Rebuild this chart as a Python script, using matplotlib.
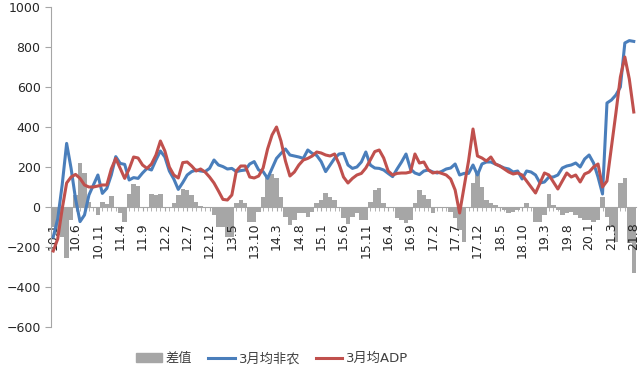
import matplotlib.pyplot as plt
from matplotlib.patches import Patch
from matplotlib.lines import Line2D

plt.rcParams['font.family'] = ['DejaVu Sans', 'Noto Sans CJK SC']

# category labels (year.month), 2020 mostly skipped in the source chart
months = ([f"{y}.{m}" for y in range(10, 20) for m in range(1, 13)]
          + ["20.1", "20.2", "20.12", "21.1", "21.2"]
          + [f"21.{m}" for m in range(3, 9)])

# 差值 (bars)
diff = [-100, -140, -150, -255, -65, 60, 220, 170, 25, 0,
        -40, 25, 15, 55, 0, -30, -75, 63, 113, 105,
        0, 0, 63, 60, 63, 0, 0, 18, 60, 88,
        85, 60, 27, 5, 0, -5, -40, -98, -98, -148,
        -148, 18, 35, 18, -73, -73, -23, 52, 160, 165,
        143, 52, -48, -90, -65, -32, -32, -48, -23, 18,
        35, 72, 52, 35, 0, -57, -85, -48, -32, -65,
        -65, 27, 85, 93, 18, 0, 0, -57, -65, -82,
        -65, 20, 85, 60, 38, -32, -5, -5, -5, -23,
        -57, -115, -173, 0, 118, 177, 102, 35, 18, 10,
        0, -15, -32, -23, -15, 0, 22, 0, -73, -73,
        -40, 63, 10, -15, -40, -32, -23, -40, -57, -65,
        -65, -73, -65, 52, -48, -98, -173, 118, 143, -180,
        -330]

# 3月均非农 (blue line)
nfp = [-150, -60, 110, 318, 193, 40, -73, -40, 60, 110,
       160, 68, 93, 160, 252, 218, 213, 135, 147, 143,
       170, 193, 185, 235, 280, 250, 180, 140, 88, 122,
       160, 177, 185, 180, 177, 193, 235, 210, 202, 190,
       193, 177, 182, 185, 215, 227, 185, 177, 143, 193,
       243, 268, 290, 260, 255, 250, 243, 285, 268, 258,
       227, 177, 210, 243, 265, 268, 210, 193, 200, 225,
       275, 210, 195, 193, 185, 168, 152, 190, 225, 265,
       190, 170, 162, 180, 185, 175, 170, 178, 190, 195,
       215, 160, 168, 168, 210, 160, 215, 225, 225, 215,
       205, 195, 190, 175, 180, 140, 180, 175, 160, 120,
       125, 150, 150, 160, 195, 205, 210, 220, 200, 240,
       260, 220, 150, 65, 520, 535, 560, 600, 820, 832,
       828]

# 3月均ADP (red line)
adp = [-220, -160, -10, 120, 150, 163, 143, 110, 100, 100,
       105, 110, 110, 190, 243, 193, 143, 190, 250, 245,
       210, 193, 215, 260, 330, 280, 200, 160, 145, 222,
       225, 205, 180, 190, 175, 150, 120, 80, 38, 35,
       60, 180, 205, 205, 150, 145, 155, 195, 290, 360,
       400, 330, 230, 155, 175, 210, 235, 243, 255, 275,
       270, 260, 255, 265, 215, 150, 120, 143, 160, 168,
       195, 235, 277, 285, 245, 180, 160, 168, 170, 170,
       175, 265, 220, 225, 185, 170, 175, 168, 160, 140,
       85, -30, 100, 230, 390, 255, 245, 230, 250, 215,
       205, 190, 175, 165, 170, 160, 130, 100, 70, 120,
       170, 160, 125, 90, 130, 170, 150, 160, 125, 165,
       175, 200, 215, 100, 130, 300, 470, 650, 750, 640,
       475]

x = list(range(len(months)))

fig = plt.figure(figsize=(6.4, 3.66), dpi=100)
ax = fig.add_axes([51 / 640, 39 / 366, 585 / 640, 320 / 366])

ax.bar(x, diff, width=1.0, color='#a6a6a6', zorder=1)
ax.plot(x, nfp, color='#4a7ebb', lw=2.2, solid_joinstyle='round', zorder=3)
ax.plot(x, adp, color='#c0504d', lw=2.2, solid_joinstyle='round', zorder=3)

ax.set_xlim(-0.5, len(months) - 0.5)
ax.set_ylim(-600, 1000)
ax.set_yticks(range(-600, 1001, 200))

for s in ['top', 'right']:
    ax.spines[s].set_visible(False)
ax.spines['bottom'].set_position(('data', 0))
ax.spines['bottom'].set_color('#a6a6a6')
ax.spines['bottom'].set_zorder(2)
ax.spines['left'].set_color('#a6a6a6')

ax.set_xticks(x[::5])
ax.set_xticklabels(months[::5], rotation=90, va='top')
ax.set_xticks(x, minor=True)
ax.tick_params(axis='x', which='both', direction='out', length=3,
               color='#a6a6a6', pad=8, labelsize=9, labelcolor='#262626')
ax.tick_params(axis='y', length=4, color='#a6a6a6', labelsize=9,
               labelcolor='#262626')

handles = [Patch(color='#a6a6a6'),
           Line2D([], [], color='#4a7ebb', lw=2.2),
           Line2D([], [], color='#c0504d', lw=2.2)]
ax.legend(handles, ['差值', '3月均非农', '3月均ADP'], ncol=3,
          loc='lower center', bbox_to_anchor=(0.425, -0.03),
          bbox_transform=fig.transFigure, frameon=False, fontsize=9.5,
          handlelength=2.0, handleheight=0.6, handletextpad=0.3,
          columnspacing=1.2, labelcolor='#404040')

fig.savefig('out.png', dpi=100)
